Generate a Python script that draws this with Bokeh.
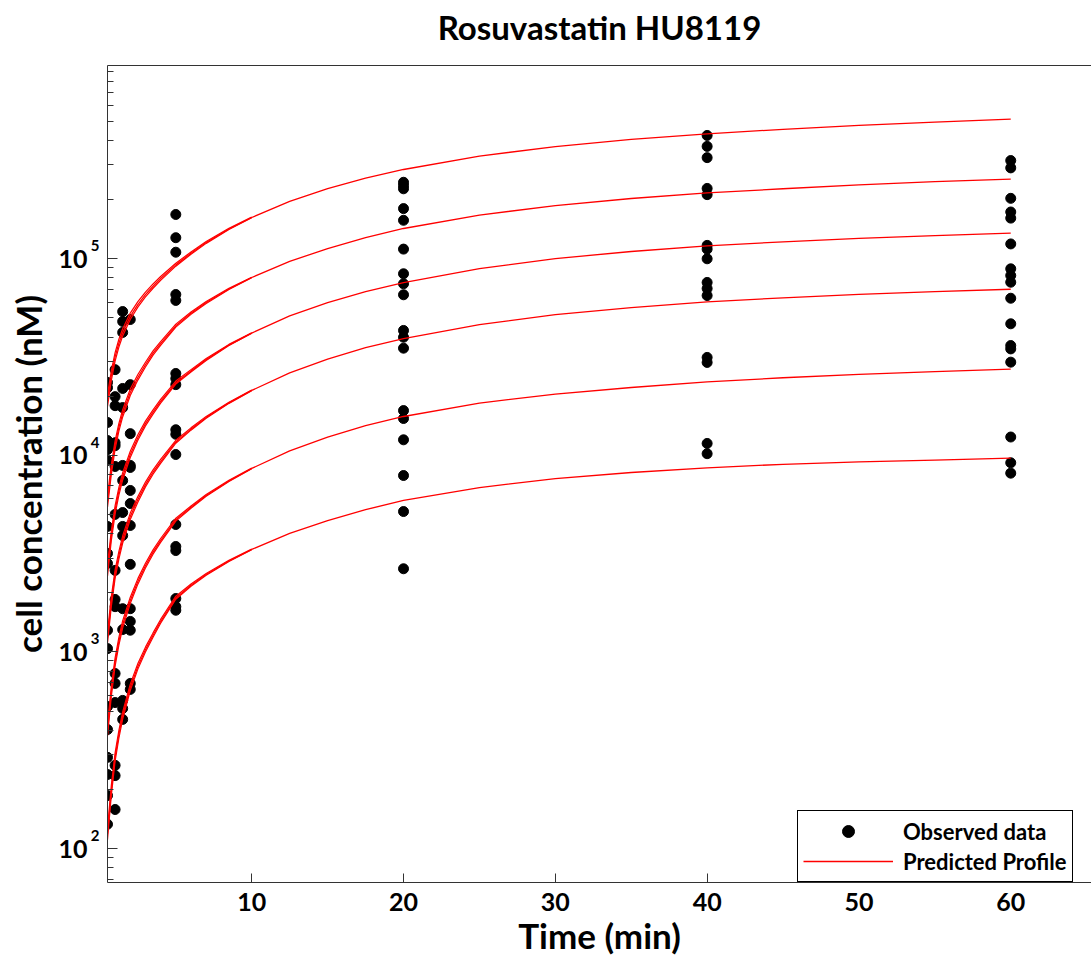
from bokeh.plotting import figure
from bokeh.models import (Range1d, FixedTicker, LogAxis, LinearAxis, CustomJSTickFormatter,
                          Legend, LegendItem, ColumnDataSource)
from bokeh.embed import file_html
from bokeh.resources import INLINE

title_text = "Rosuvastatin HU8119"
x_label = "Time (min)"
y_label = "cell concentration (nM)"
legend_labels = ["Observed data", "Predicted Profile"]

x_ticks = [10, 20, 30, 40, 50, 60]
y_ticks = [1e2, 1e3, 1e4, 1e5]

# ---- observed data (nM) by sampling time (min)
obs_times = [0.5, 1, 1.5, 2, 5, 20, 40, 60]
obs_t05 = [23500, 22100, 14700, 11900, 10700, 9420, 4350, 3170, 2820, 1290, 1040, 528, 403, 291, 238, 186, 133]
obs_t1 = [27300, 19900, 17900, 11600, 11200, 8780, 5010, 2600, 1850, 1700, 777, 692, 553, 265, 235, 158]
obs_t15 = [53900, 48000, 42200, 21900, 17500, 8890, 7450, 5120, 4350, 3910, 1660, 1300, 567, 516, 454]
obs_t2 = [49100, 22900, 12900, 8890, 8680, 6630, 5690, 4400, 2790, 1660, 1430, 1290, 692, 645]
obs_t5 = [168000, 128000, 108000, 65800, 61400, 26100, 24600, 22900, 13500, 12800, 10100, 4450, 3440, 3280, 1870, 1700, 1630]
obs_t20 = [245000, 236000, 227000, 180000, 157000, 112000, 83900, 74600, 65600, 43200, 39900, 35100, 16900, 15400, 12000, 7900, 5180, 2650]
obs_t40 = [424000, 373000, 327000, 228000, 212000, 117000, 112000, 100000, 75800, 70600, 65000, 31500, 29700, 11500, 10200]
obs_t60 = [316000, 290000, 203000, 173000, 161000, 119000, 88900, 82200, 76000, 63000, 46700, 36200, 34800, 29800, 12400, 9170, 8120]
obs_columns = [obs_t05, obs_t1, obs_t15, obs_t2, obs_t5, obs_t20, obs_t40, obs_t60]

# ---- predicted profiles (nM): one curve per concentration group over the whole run
curve_time = [0.5, 0.75, 1, 1.25, 1.5, 2, 2.5, 3, 3.5, 4, 5, 6, 7, 8.5, 10, 12.5, 15, 17.5, 20,
              25, 30, 35, 40, 45, 50, 55, 60]
pred_A = [19000, 25400, 31700, 37200, 42200, 50900, 58500, 65700, 72500, 79300, 93100, 106700, 121000,
          141800, 162200, 195900, 227600, 257000, 284600, 333000, 372100, 404500, 431800, 455700,
          477000, 495800, 513000]
pred_B = [5830, 8450, 11290, 13900, 16340, 20900, 24900, 28900, 33100, 37000, 45600, 52800, 59900,
          70200, 80300, 97000, 112700, 128100, 142600, 166900, 186400, 202600, 216400, 227100,
          237600, 247000, 254100]
pred_C = [2600, 3900, 5280, 6570, 7810, 10100, 12300, 14500, 16600, 18800, 23400, 26900, 30700,
          36400, 41900, 51200, 59900, 68000, 75700, 89200, 100200, 108900, 116300, 122000,
          127000, 131200, 135000]
pred_D = [1185, 1800, 2490, 3100, 3730, 4890, 5960, 7100, 8210, 9300, 11700, 13600, 15600,
          18500, 21400, 26300, 30900, 35300, 39300, 46300, 52000, 56500, 60400, 63300,
          65900, 68100, 70000]
pred_E = [399, 628, 889, 1133, 1380, 1827, 2281, 2747, 3218, 3686, 4699, 5445, 6252,
          7409, 8580, 10540, 12390, 14160, 15770, 18450, 20500, 22140, 23660, 24820,
          25820, 26680, 27440]
pred_F = [119, 197, 292, 381, 475, 660, 843, 1027, 1217, 1428, 1884, 2185, 2479,
          2903, 3322, 4011, 4660, 5294, 5900, 6858, 7621, 8185, 8638, 9010,
          9267, 9465, 9679]

# ---- replicate profiles that split off from each group during the first minutes
early_time = [0.5, 0.75, 1, 1.25, 1.5, 2, 2.5, 3, 3.5, 4, 5, 6, 7, 8.5, 10]
rep_A_hi = [20330, 26920, 33290, 38950, 44100, 52940, 60550, 67670, 74460, 81280, 94960, 108300, 122450, 142930, 162850]
rep_A_lo = [17770, 24000, 30180, 35560, 40510, 49120, 56750, 63990, 70830, 77710, 91700, 105420, 119790, 140950, 161710]
rep_B_hi = [6240, 8960, 11850, 14550, 17080, 21740, 25770, 29770, 33990, 37930, 46510, 53590, 60620, 70760, 80620]
rep_B_lo = [5451, 7985, 10748, 13288, 15686, 20169, 24153, 28149, 32339, 36260, 44916, 52166, 59301, 69779, 80059]
rep_C_hi = [2782, 4134, 5544, 6879, 8161, 10504, 12731, 14935, 17048, 19270, 23868, 27304, 31068, 36691, 42068]
rep_C_lo = [2431, 3686, 5027, 6281, 7498, 9747, 11931, 14123, 16218, 18424, 23049, 26577, 30393, 36182, 41774]
rep_D_hi = [1268, 1908, 2615, 3246, 3898, 5086, 6169, 7313, 8432, 9533, 11934, 13804, 15787, 18648, 21486]
rep_D_lo = [1108, 1701, 2370, 2964, 3581, 4719, 5781, 6915, 8021, 9114, 11525, 13437, 15444, 18389, 21336]
rep_E_hi = [427, 666, 933, 1186, 1442, 1900, 2361, 2829, 3305, 3778, 4793, 5527, 6327, 7468, 8614]
rep_E_lo = [373, 593, 846, 1083, 1325, 1763, 2213, 2676, 3144, 3612, 4629, 5380, 6189, 7365, 8554]
rep_F_hi = [127, 209, 307, 399, 496, 686, 873, 1058, 1250, 1464, 1922, 2218, 2509, 2926, 3335]
rep_F_lo = [111, 186, 278, 364, 456, 637, 818, 1000, 1189, 1399, 1856, 2159, 2454, 2886, 3312]

main_curves = [pred_A, pred_B, pred_C, pred_D, pred_E, pred_F]
rep_curves = [rep_A_hi, rep_A_lo, rep_B_hi, rep_B_lo, rep_C_hi, rep_C_lo,
              rep_D_hi, rep_D_lo, rep_E_hi, rep_E_lo, rep_F_hi, rep_F_lo]

FONT = "Lato"
AXIS_COLOR = "#333333"

p = figure(width=1091, height=964, x_range=Range1d(0.5, 65.32), y_range=Range1d(67.2, 9.62e5),
           y_axis_type="log", output_backend="svg", toolbar_location=None,
           min_border_left=107, min_border_right=0, min_border_top=65, min_border_bottom=82)
p.xgrid.visible = False
p.ygrid.visible = False
p.outline_line_color = None
p.background_fill_color = "white"
p.border_fill_color = "white"

# x axis
xa = p.xaxis[0]
xa.ticker = FixedTicker(ticks=x_ticks)
xa.major_tick_in = 9
xa.major_tick_out = 0
xa.minor_tick_line_color = None
xa.axis_line_color = AXIS_COLOR
xa.major_tick_line_color = AXIS_COLOR
xa.major_label_text_font = FONT
xa.major_label_text_font_style = "bold"
xa.major_label_text_font_size = "25px"
xa.major_label_text_color = "black"
xa.major_label_standoff = 10
xa.axis_label = x_label
xa.axis_label_text_font = FONT
xa.axis_label_text_font_style = "bold"
xa.axis_label_text_font_size = "35px"
xa.axis_label_text_color = "black"
xa.axis_label_standoff = 0

# y axis (inner): ticks only
ya = p.yaxis[0]
ya.ticker = FixedTicker(ticks=y_ticks, minor_ticks=[k * 10 ** n for n in range(1, 6) for k in range(2, 10)])
ya.formatter = CustomJSTickFormatter(code="return ''")
ya.major_tick_in = 10
ya.major_tick_out = 0
ya.minor_tick_in = 6
ya.minor_tick_out = 0
ya.axis_line_color = AXIS_COLOR
ya.major_tick_line_color = AXIS_COLOR
ya.minor_tick_line_color = AXIS_COLOR
ya.major_label_standoff = 0

# exponent labels, raised above each decade tick
raise_factor = 10 ** (13 / 196.6)
exp_axis = LogAxis(ticker=FixedTicker(ticks=[t * raise_factor for t in y_ticks]),
                   formatter=CustomJSTickFormatter(code="return String(Math.floor(Math.log10(tick) + 1e-9))"),
                   major_tick_line_color=None, minor_tick_line_color=None, axis_line_color=None,
                   major_tick_in=0, major_tick_out=0, minor_tick_in=0, minor_tick_out=0,
                   major_label_standoff=8, major_label_text_font=FONT, major_label_text_font_style="bold",
                   major_label_text_font_size="15px", major_label_text_color="black")
p.add_layout(exp_axis, "left")

# base "10" labels and the y axis title
base_axis = LogAxis(ticker=FixedTicker(ticks=y_ticks),
                    formatter=CustomJSTickFormatter(code="return '10'"),
                    major_tick_line_color=None, minor_tick_line_color=None, axis_line_color=None,
                    major_tick_in=0, major_tick_out=0, minor_tick_in=0, minor_tick_out=0,
                    major_label_standoff=0, major_label_text_font=FONT, major_label_text_font_style="bold",
                    major_label_text_font_size="25px", major_label_text_color="black",
                    axis_label=y_label, axis_label_text_font=FONT, axis_label_text_font_style="bold",
                    axis_label_text_font_size="35px", axis_label_text_color="black",
                    axis_label_standoff=6)
p.add_layout(base_axis, "left")

# top frame edge carrying the chart title
top_axis = LinearAxis(ticker=FixedTicker(ticks=[]), formatter=CustomJSTickFormatter(code="return ''"),
                      major_tick_line_color=None, minor_tick_line_color=None,
                      major_tick_out=0, minor_tick_out=0, major_label_standoff=0,
                      axis_line_color=AXIS_COLOR,
                      axis_label=title_text, axis_label_text_font=FONT, axis_label_text_font_style="bold",
                      axis_label_text_font_size="33px", axis_label_text_color="black",
                      axis_label_standoff=19)
p.add_layout(top_axis, "above")

# observed points
ox, oy = [], []
for t, col in zip(obs_times, obs_columns):
    ox += [t] * len(col)
    oy += col
obs_src = ColumnDataSource(dict(x=ox, y=oy))
dots = p.scatter("x", "y", source=obs_src, size=10, marker="circle", fill_color="black", line_color="black")

# predicted profiles
rep_src = ColumnDataSource(dict(xs=[early_time] * len(rep_curves), ys=rep_curves))
p.multi_line("xs", "ys", source=rep_src, line_color="red", line_width=1.2)
main_src = ColumnDataSource(dict(xs=[curve_time] * len(main_curves), ys=main_curves))
lines = p.multi_line("xs", "ys", source=main_src, line_color="red", line_width=1.3)

legend = Legend(items=[LegendItem(label=legend_labels[0], renderers=[dots]),
                       LegendItem(label=legend_labels[1], renderers=[lines])],
                location=(690, 0), orientation="vertical", padding=5, spacing=0, margin=0,
                glyph_width=90, glyph_height=30, label_height=30, label_standoff=10,
                label_text_font=FONT, label_text_font_style="bold", label_text_font_size="22px",
                label_text_color="black", border_line_color="black", border_line_alpha=1.0,
                border_line_width=1, background_fill_color="white", background_fill_alpha=1.0)
p.add_layout(legend)

open("out.html", "w").write(file_html(p, INLINE))
